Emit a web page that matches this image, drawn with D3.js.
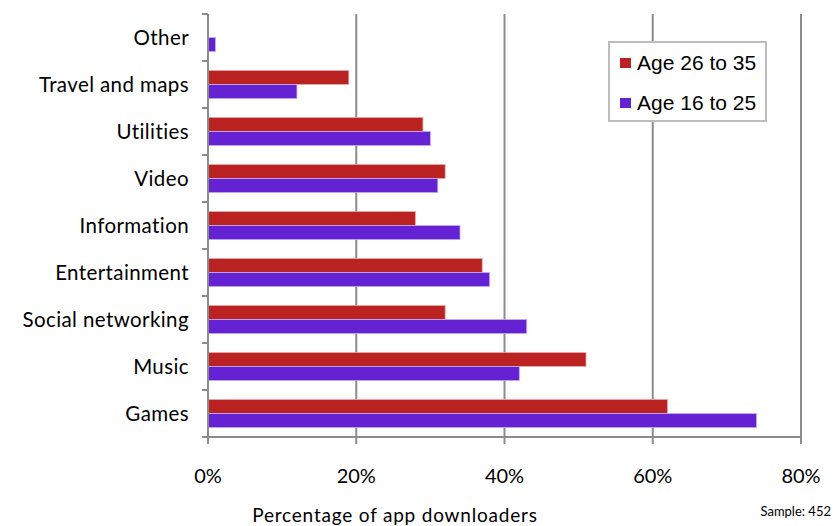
<!DOCTYPE html>
<html>
<head>
<meta charset="utf-8">
<script src="https://cdn.jsdelivr.net/npm/d3@7"></script>
<style>
  body { margin: 0; background: #fff; }
  svg text { fill: #000; }
</style>
</head>
<body>
<svg id="chart" width="839" height="526"></svg>
<script>
var categories = ["Other", "Travel and maps", "Utilities", "Video", "Information",
                  "Entertainment", "Social networking", "Music", "Games"];
var seriesNames = ["Age 26 to 35", "Age 16 to 25"];
var age26to35 = [0, 19, 29, 32, 28, 37, 32, 51, 62];
var age16to25 = [1, 12, 30, 31, 34, 38, 43, 42, 74];
var xTicks = [0, 20, 40, 60, 80];

var colors = ["#bb2222", "#6422d2"];
var strokes = ["#e8b0b0", "#c4aef0"];

var margin = {top: 14, right: 38, bottom: 89, left: 208},
    width = 839 - margin.left - margin.right,
    height = 526 - margin.top - margin.bottom;

var svg = d3.select("#chart");
var g = svg.append("g")
    .attr("transform", "translate(" + margin.left + "," + margin.top + ")");

var x = d3.scaleLinear().domain([0, 80]).range([0, width]);
var y = d3.scaleBand().domain(categories).range([0, height]).paddingInner(0.4).paddingOuter(0.2);
var ySub = d3.scaleBand().domain(seriesNames).range([0, y.bandwidth()]);
var yEdge = d3.scaleLinear().domain([0, categories.length]).range([0, height]);

// vertical gridlines
g.selectAll(".grid")
    .data(xTicks.slice(1))
  .enter().append("line")
    .attr("x1", function(d) { return x(d); })
    .attr("x2", function(d) { return x(d); })
    .attr("y1", 0)
    .attr("y2", height)
    .attr("stroke", "#8c8c8c")
    .attr("stroke-width", 2);

// bars
var data = categories.map(function(c, i) {
    return {cat: c, vals: [age26to35[i], age16to25[i]]};
});
var groups = g.selectAll(".cat")
    .data(data)
  .enter().append("g")
    .attr("transform", function(d) { return "translate(0," + y(d.cat) + ")"; });

groups.selectAll("rect")
    .data(function(d) { return d.vals.map(function(v, j) { return {s: seriesNames[j], v: v, j: j}; }); })
  .enter().append("rect")
    .filter(function(d) { return d.v > 0; })
    .attr("x", 0)
    .attr("y", function(d) { return ySub(d.s); })
    .attr("width", function(d) { return x(d.v); })
    .attr("height", ySub.bandwidth())
    .attr("fill", function(d) { return colors[d.j]; })
    .attr("stroke", function(d) { return strokes[d.j]; })
    .attr("stroke-width", 0.8);

// y axis line and ticks
g.append("line")
    .attr("x1", 0).attr("x2", 0).attr("y1", 0).attr("y2", height)
    .attr("stroke", "#8c8c8c").attr("stroke-width", 2);
g.selectAll(".ytick")
    .data(d3.range(categories.length + 1))
  .enter().append("line")
    .attr("x1", -6).attr("x2", 0)
    .attr("y1", function(d) { return yEdge(d); })
    .attr("y2", function(d) { return yEdge(d); })
    .attr("stroke", "#8c8c8c").attr("stroke-width", 2);

// category labels
g.selectAll(".ylabel")
    .data(categories)
  .enter().append("text")
    .attr("x", -19)
    .attr("y", function(d) { return y(d) + y.bandwidth() / 2; })
    .attr("dy", "0.35em")
    .attr("text-anchor", "end")
    .style("font-family", "Lato, sans-serif")
    .style("font-size", "20.5px")
    .style("letter-spacing", "0.4px")
    .text(function(d) { return d; });

// x axis
g.append("line")
    .attr("x1", 0).attr("x2", width).attr("y1", height).attr("y2", height)
    .attr("stroke", "#8c8c8c").attr("stroke-width", 2);
g.selectAll(".xtick")
    .data(xTicks)
  .enter().append("line")
    .attr("x1", function(d) { return x(d); })
    .attr("x2", function(d) { return x(d); })
    .attr("y1", height).attr("y2", height + 7)
    .attr("stroke", "#8c8c8c").attr("stroke-width", 2);
g.selectAll(".xlabel")
    .data(xTicks)
  .enter().append("text")
    .attr("x", function(d) { return x(d); })
    .attr("y", height + 46)
    .attr("text-anchor", "middle")
    .style("font-family", "Lato, sans-serif")
    .style("font-size", "20px")
    .text(function(d) { return d + "%"; });

// axis title
svg.append("text")
    .attr("x", 395)
    .attr("y", 522)
    .attr("text-anchor", "middle")
    .style("font-family", "Lato, sans-serif")
    .style("font-size", "19px")
    .style("letter-spacing", "0.8px")
    .text("Percentage of app downloaders");

svg.append("text")
    .attr("x", 831)
    .attr("y", 516)
    .attr("text-anchor", "end")
    .style("font-family", "Lato, sans-serif")
    .style("font-size", "13px")
    .text("Sample: 452");

// legend
var legend = svg.append("g").attr("transform", "translate(609,42)");
legend.append("rect")
    .attr("width", 157).attr("height", 79)
    .attr("fill", "#fff")
    .attr("stroke", "#bdbdbd").attr("stroke-width", 2);
var items = legend.selectAll(".item")
    .data(seriesNames)
  .enter().append("g")
    .attr("transform", function(d, i) { return "translate(11," + (16 + i * 40) + ")"; });
items.append("rect")
    .attr("width", 11).attr("height", 10)
    .attr("fill", function(d, i) { return colors[i]; });
items.append("text")
    .attr("x", 17)
    .attr("y", 5)
    .attr("dy", "0.35em")
    .style("font-family", "'Liberation Sans', Arial, sans-serif")
    .style("font-size", "21px")
    .text(function(d) { return d; });
</script>
</body>
</html>
